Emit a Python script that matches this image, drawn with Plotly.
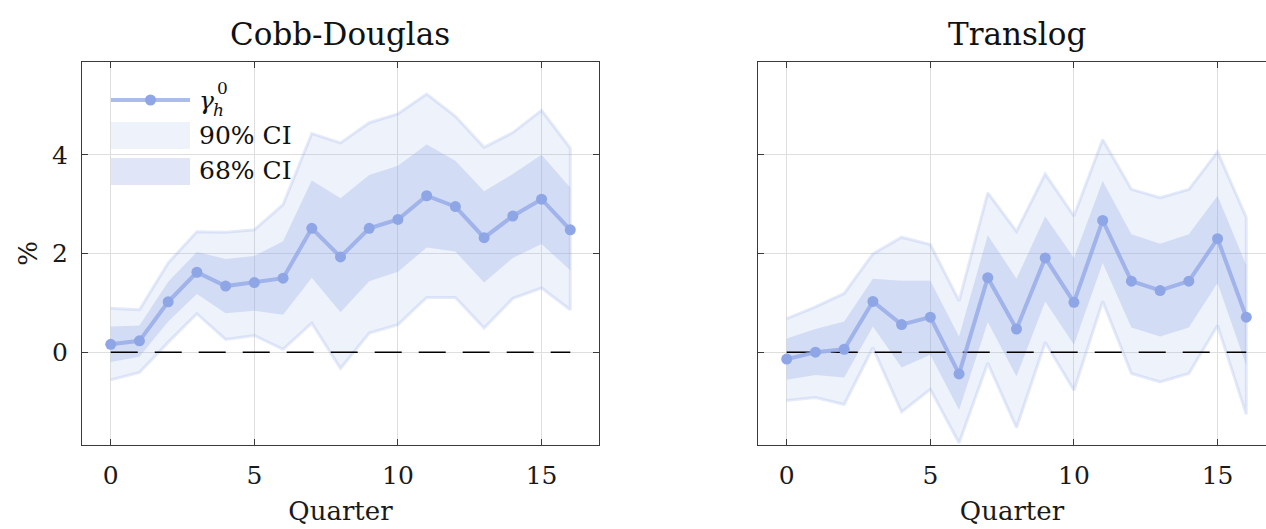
import plotly.graph_objects as go

# Horizon (quarters)
quarters = list(range(17))

# Cobb-Douglas: point estimate and confidence bands (%)
cd_est = [0.16, 0.23, 1.02, 1.62, 1.34, 1.41, 1.50, 2.51, 1.93, 2.51, 2.69, 3.17, 2.95, 2.32, 2.76, 3.10, 2.48]
cd_hi90 = [0.89, 0.86, 1.81, 2.44, 2.43, 2.48, 2.99, 4.43, 4.24, 4.65, 4.83, 5.23, 4.78, 4.15, 4.45, 4.90, 4.13]
cd_lo90 = [-0.56, -0.41, 0.20, 0.78, 0.26, 0.34, 0.06, 0.59, -0.33, 0.39, 0.56, 1.11, 1.11, 0.49, 1.09, 1.30, 0.86]
cd_hi68 = [0.52, 0.54, 1.43, 2.03, 1.89, 1.95, 2.25, 3.48, 3.12, 3.59, 3.78, 4.21, 3.88, 3.26, 3.61, 4.00, 3.33]
cd_lo68 = [-0.20, -0.09, 0.62, 1.18, 0.79, 0.84, 0.76, 1.51, 0.81, 1.44, 1.63, 2.12, 2.04, 1.41, 1.91, 2.19, 1.66]

# Translog: point estimate and confidence bands (%)
tl_est = [-0.14, 0.00, 0.06, 1.03, 0.56, 0.71, -0.44, 1.51, 0.47, 1.91, 1.01, 2.67, 1.44, 1.25, 1.44, 2.30, 0.71]
tl_hi90 = [0.68, 0.92, 1.19, 1.99, 2.33, 2.18, 1.04, 3.23, 2.45, 3.61, 2.76, 4.31, 3.30, 3.13, 3.30, 4.06, 2.73]
tl_lo90 = [-0.98, -0.92, -1.06, 0.09, -1.21, -0.75, -1.84, -0.22, -1.53, 0.20, -0.77, 1.03, -0.43, -0.60, -0.43, 0.54, -1.26]
tl_hi68 = [0.28, 0.47, 0.62, 1.49, 1.45, 1.45, 0.32, 2.37, 1.49, 2.75, 1.91, 3.47, 2.39, 2.20, 2.39, 3.17, 1.76]
tl_lo68 = [-0.56, -0.46, -0.51, 0.52, -0.31, -0.05, -1.17, 0.61, -0.49, 1.03, 0.15, 1.81, 0.50, 0.32, 0.50, 1.40, -0.27]

panel_titles = ["Cobb-Douglas", "Translog"]
x_ticks = [0, 5, 10, 15]
y_ticks = [0, 2, 4]

FONT = "DejaVu Serif"
BASE = "143,166,230"
FILL90 = f"rgba({BASE},0.15)"
FILL68 = f"rgba({BASE},0.28)"
EDGE90 = f"rgba({BASE},0.22)"
LINE = f"rgba({BASE},0.75)"
MARK = f"rgb({BASE})"
AXIS = "#3a3a3a"
GRID = "#dedede"
TEXT = "#1a1a1a"

W, H = 1266, 529
fig = go.Figure()


def band(xs, lo, hi, fill, edge, xa, ya):
    fig.add_trace(go.Scatter(
        x=xs + xs[::-1], y=hi + lo[::-1], xaxis=xa, yaxis=ya,
        fill="toself", fillcolor=fill, mode="lines",
        line=dict(color=edge, width=3 if edge else 0),
        hoverinfo="skip", showlegend=False))


panels = [
    ("x", "y", cd_est, cd_lo90, cd_hi90, cd_lo68, cd_hi68),
    ("x2", "y2", tl_est, tl_lo90, tl_hi90, tl_lo68, tl_hi68),
]
for xa, ya, est, lo90, hi90, lo68, hi68 in panels:
    band(quarters, lo90, hi90, FILL90, EDGE90, xa, ya)
    band(quarters, lo68, hi68, FILL68, None, xa, ya)
    fig.add_trace(go.Scatter(
        x=[quarters[0], quarters[-1]], y=[0, 0], xaxis=xa, yaxis=ya,
        mode="lines", line=dict(color="#000000", width=1.5, dash="27px,17px"),
        hoverinfo="skip", showlegend=False))
    fig.add_trace(go.Scatter(
        x=quarters, y=est, xaxis=xa, yaxis=ya, mode="lines+markers",
        line=dict(color=LINE, width=4), marker=dict(color=MARK, size=11),
        showlegend=False))

# Plot-area geometry in pixels
L1, R1 = 82, 599
L2 = 758
TOP, BOT = 62, 445
Y_RANGE = [-1.88, 5.88]

axis_common = dict(
    showline=True, linecolor=AXIS, linewidth=1.3,
    ticks="inside", ticklen=6, tickcolor=AXIS, tickwidth=1.3,
    showgrid=True, gridcolor=GRID, gridwidth=1, zeroline=False,
    tickfont=dict(family=FONT, size=25, color=TEXT),
)
xtitle = dict(text="Quarter", font=dict(family=FONT, size=26, color=TEXT), standoff=12)

fig.update_layout(
    width=W, height=H,
    margin=dict(l=0, r=0, t=TOP, b=H - BOT),
    paper_bgcolor="white", plot_bgcolor="white",
    showlegend=False,
    font=dict(family=FONT),
    xaxis=dict(domain=[L1 / W, R1 / W], range=[-1, 17], tickvals=x_ticks,
               mirror="ticks", anchor="y", ticklabelstandoff=8,
               title=xtitle, **axis_common),
    yaxis=dict(domain=[0, 1], range=Y_RANGE, tickvals=y_ticks, mirror="ticks",
               anchor="x", ticklabelstandoff=8,
               title=dict(text="%", font=dict(family=FONT, size=26, color=TEXT), standoff=6),
               **axis_common),
    xaxis2=dict(domain=[L2 / W, 1], range=[-1, (W - L2) / ((R1 - L1) / 18) - 1],
                tickvals=x_ticks, mirror="ticks", anchor="y2", ticklabelstandoff=8,
                title=xtitle, **axis_common),
    yaxis2=dict(domain=[0, 1], range=Y_RANGE, tickvals=y_ticks, mirror=False,
                anchor="x2", showticklabels=False, **axis_common),
)

# Panel titles
for title, (l, r) in zip(panel_titles, [(L1, R1), (L2, L2 + (R1 - L1))]):
    fig.add_annotation(text=title, x=(l + r) / 2 / W, y=1, xref="paper", yref="paper",
                       xanchor="center", yanchor="bottom", yshift=8, showarrow=False,
                       font=dict(family=FONT, size=31, color="#111111"))

# Legend drawn inside the first panel (domain coordinates)
def dx(px):
    return (px - L1) / (R1 - L1)


def dy(py):
    return (BOT - py) / (BOT - TOP)


fig.add_shape(type="line", xref="x domain", yref="y domain",
              x0=dx(111), x1=dx(190), y0=dy(100), y1=dy(100),
              line=dict(color=LINE, width=4))
fig.add_shape(type="circle", xref="x domain", yref="y domain",
              x0=dx(145), x1=dx(156), y0=dy(105.5), y1=dy(94.5),
              fillcolor=MARK, line=dict(width=0))
fig.add_shape(type="rect", xref="x domain", yref="y domain",
              x0=dx(111), x1=dx(190), y0=dy(149), y1=dy(122),
              fillcolor=FILL90, line=dict(width=0))
fig.add_shape(type="rect", xref="x domain", yref="y domain",
              x0=dx(111), x1=dx(190), y0=dy(185), y1=dy(158),
              fillcolor=FILL68, line=dict(width=0))

legend_font = dict(family=FONT, size=25, color="#111111")
small_font = dict(family=FONT, size=17, color="#111111")
fig.add_annotation(text="<i>γ</i>", x=dx(197), y=dy(100), xref="x domain", yref="y domain",
                   xanchor="left", yanchor="middle", showarrow=False, font=legend_font)
fig.add_annotation(text="<i>h</i>", x=dx(211), y=dy(110), xref="x domain", yref="y domain",
                   xanchor="left", yanchor="middle", showarrow=False, font=small_font)
fig.add_annotation(text="0", x=dx(215), y=dy(88), xref="x domain", yref="y domain",
                   xanchor="left", yanchor="middle", showarrow=False, font=small_font)
fig.add_annotation(text="90% CI", x=dx(197), y=dy(135), xref="x domain", yref="y domain",
                   xanchor="left", yanchor="middle", showarrow=False, font=legend_font)
fig.add_annotation(text="68% CI", x=dx(197), y=dy(170), xref="x domain", yref="y domain",
                   xanchor="left", yanchor="middle", showarrow=False, font=legend_font)

fig.write_html("out.html")
